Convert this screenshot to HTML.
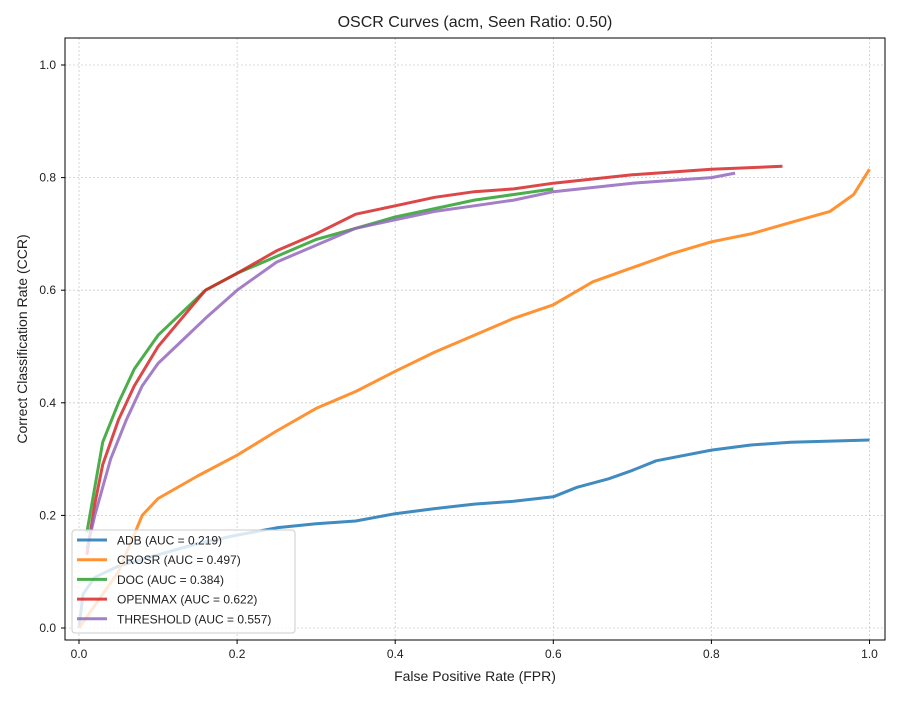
<!DOCTYPE html>
<html><head><meta charset="utf-8"><style>
body{margin:0;background:#fff;}
svg text{font-family:"Liberation Sans","Noto Sans CJK SC",sans-serif;fill:#222;}
</style></head><body>
<svg id="chart" width="900" height="700" xmlns="http://www.w3.org/2000/svg">
<rect width="900" height="700" fill="#fff"/>
<g id="grid"></g>
<g id="lines"></g>
<rect x="65" y="38" width="820" height="602" fill="none" stroke="#000" stroke-width="1"/>
<g id="ticks"></g>
<text x="475" y="27" text-anchor="middle" font-size="16">OSCR Curves (acm, Seen Ratio: 0.50)</text>
<text x="475" y="681" text-anchor="middle" font-size="14">False Positive Rate (FPR)</text>
<text transform="translate(27,339) rotate(-90)" text-anchor="middle" font-size="14">Correct Classification Rate (CCR)</text>
<g id="legend"></g>
</svg>
<script>
const seriesNames=["ADB","CROSR","DOC","OPENMAX","THRESHOLD"];
const aucLabels=["0.219","0.497","0.384","0.622","0.557"];
const colors=["#1f77b4","#ff7f0e","#2ca02c","#d62728","#9467bd"];
const xTicks=[0,0.2,0.4,0.6,0.8,1.0];
const yTicks=[0,0.2,0.4,0.6,0.8,1.0];
const adbX=[0,0.005,0.02,0.05,0.1,0.15,0.2,0.25,0.3,0.35,0.4,0.45,0.5,0.55,0.6,0.63,0.67,0.7,0.73,0.8,0.85,0.9,1.0];
const adbY=[0,0.06,0.09,0.11,0.13,0.15,0.165,0.178,0.185,0.19,0.203,0.212,0.22,0.225,0.233,0.25,0.265,0.28,0.297,0.316,0.325,0.33,0.334];
const crosrX=[0,0.02,0.05,0.08,0.1,0.15,0.2,0.25,0.3,0.35,0.4,0.45,0.5,0.55,0.6,0.65,0.7,0.75,0.8,0.85,0.9,0.95,0.98,1.0];
const crosrY=[0,0.04,0.1,0.2,0.23,0.27,0.307,0.35,0.39,0.42,0.456,0.49,0.52,0.55,0.574,0.615,0.64,0.665,0.686,0.7,0.72,0.74,0.77,0.815];
const docX=[0.01,0.02,0.03,0.05,0.07,0.1,0.13,0.16,0.2,0.25,0.3,0.35,0.4,0.45,0.5,0.55,0.6];
const docY=[0.17,0.25,0.33,0.4,0.46,0.52,0.56,0.6,0.63,0.66,0.69,0.71,0.73,0.745,0.76,0.77,0.78];
const omX=[0.01,0.02,0.03,0.05,0.07,0.1,0.13,0.16,0.2,0.25,0.3,0.35,0.4,0.45,0.5,0.55,0.6,0.7,0.8,0.89];
const omY=[0.13,0.22,0.29,0.37,0.43,0.5,0.55,0.6,0.63,0.67,0.7,0.735,0.75,0.765,0.775,0.78,0.79,0.805,0.815,0.82];
const thX=[0.01,0.02,0.04,0.06,0.08,0.1,0.13,0.16,0.2,0.25,0.3,0.35,0.4,0.45,0.5,0.55,0.6,0.7,0.8,0.83];
const thY=[0.14,0.2,0.3,0.37,0.43,0.47,0.51,0.55,0.6,0.65,0.68,0.71,0.725,0.74,0.75,0.76,0.775,0.79,0.8,0.808];
const allX=[adbX,crosrX,docX,omX,thX], allY=[adbY,crosrY,docY,omY,thY];
const NS="http://www.w3.org/2000/svg";
function sx(v){return 79+v*790.5;}
function sy(v){return 628-v*563;}
function mk(tag,attrs,parent){const e=document.createElementNS(NS,tag);for(const k in attrs)e.setAttribute(k,attrs[k]);parent.appendChild(e);return e;}
const grid=document.getElementById('grid'),ticks=document.getElementById('ticks');
xTicks.forEach(t=>{
 const g=mk('line',{x1:sx(t),x2:sx(t),y1:38,y2:640,stroke:'#ccc','stroke-dasharray':'2,2','stroke-width':0.8},grid);
 
 
 const tk=mk('line',{x1:sx(t),x2:sx(t),y1:640,y2:644,stroke:'#000'},ticks);
 
 
 const tx=mk('text',{x:sx(t),y:658,'text-anchor':'middle','font-size':12},ticks);
 tx.textContent=t.toFixed(1);
 
 
});
yTicks.forEach(t=>{
 const g=mk('line',{x1:65,x2:885,y1:sy(t),y2:sy(t),stroke:'#ccc','stroke-dasharray':'2,2','stroke-width':0.8},grid);
 
 
 const tk=mk('line',{x1:61,x2:65,y1:sy(t),y2:sy(t),stroke:'#000'},ticks);
 
 
 const tx=mk('text',{x:56,y:sy(t)+4,'text-anchor':'end','font-size':12},ticks);
 tx.textContent=t.toFixed(1);
 
 
});
const lines=document.getElementById('lines');
seriesNames.forEach((n,i)=>{
 const pts=allX[i].map((x,j)=>sx(x).toFixed(1)+','+sy(allY[i][j]).toFixed(1)).join(' ');
 const p=mk('polyline',{points:pts,fill:'none',stroke:colors[i],'stroke-width':3,'stroke-opacity':0.85,'stroke-linejoin':'round'},lines);
 
 
});
const lg=document.getElementById('legend');
const box=mk('rect',{x:72,y:530,width:223,height:103,rx:3,fill:'#fff','fill-opacity':0.8,stroke:'#ccc'},lg);


seriesNames.forEach((n,i)=>{
 const y=540+i*19.7;
 const l=mk('line',{x1:77,x2:107,y1:y,y2:y,stroke:colors[i],'stroke-width':3,'stroke-opacity':0.85},lg);
 
 
 const t=mk('text',{x:117,y:y+4.5,'font-size':12},lg);
 t.textContent=n+' (AUC = '+aucLabels[i]+')';
 
 
});
</script>
</body></html>
